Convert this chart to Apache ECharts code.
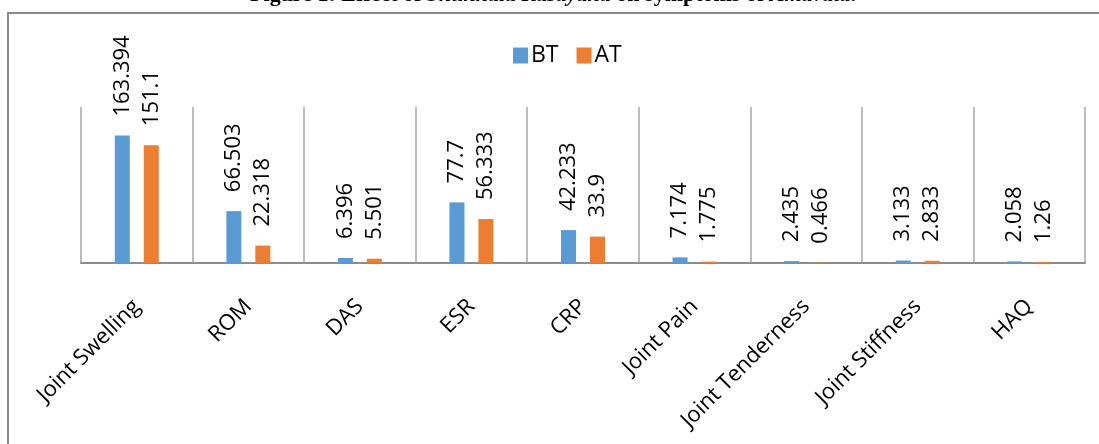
<!DOCTYPE html>
<html>
<head>
<meta charset="utf-8">
<script src="https://cdn.jsdelivr.net/npm/echarts@6/dist/echarts.min.js"></script>
<style>
html,body{margin:0;padding:0;background:#fff;}
#c{width:1099px;height:444px;}
</style>
</head>
<body>
<div id="c"></div>
<script>
const categories = ['Joint Swelling','ROM','DAS','ESR','CRP','Joint Pain','Joint Tenderness','Joint Stiffness','HAQ'];
const btValues = [163.394, 66.503, 6.396, 77.7, 42.233, 7.174, 2.435, 3.133, 2.058];
const atValues = [151.1, 22.318, 5.501, 56.333, 33.9, 1.775, 0.466, 2.833, 1.26];
const seriesNames = ['BT','AT'];
const titleParts = ['Figure 1: Effect of ', 'Shuhhala Kasayana', ' on symptoms of ', 'Amavata', '.'];

const FONT = '"Open Sans", sans-serif';
const chart = echarts.init(document.getElementById('c'), null, {renderer:'canvas'});

const labelCfg = {
  show: true,
  position: 'top',
  distance: 19,
  rotate: 90,
  align: 'left',
  verticalAlign: 'middle',
  fontFamily: FONT,
  fontSize: 22,
  color: '#000'
};

chart.setOption({
  animation: false,
  backgroundColor: '#fff',
  graphic: [
    {
      type: 'rect',
      shape: {x: 8, y: 13, width: 1200, height: 500},
      style: {fill: 'none', stroke: '#8a8a8a', lineWidth: 2},
      z: 0
    },
    {
      type: 'text',
      x: 553, y: 6,
      style: {
        text: '{b|' + titleParts[0] + '}{i|' + titleParts[1] + '}{b|' + titleParts[2] + '}{i|' + titleParts[3] + '}{b|' + titleParts[4] + '}',
        align: 'center',
        verticalAlign: 'bottom',
        rich: {
          b: {fontFamily: '"Liberation Serif", serif', fontWeight: 'bold', fontSize: 22, fill: '#000'},
          i: {fontFamily: '"Liberation Serif", serif', fontWeight: 'bold', fontStyle: 'italic', fontSize: 22, fill: '#000'}
        }
      }
    }
  ],
  legend: {
    data: seriesNames,
    left: 508,
    top: 39,
    itemWidth: 15,
    itemHeight: 16,
    itemGap: 18,
    icon: 'rect',
    textStyle: {fontFamily: FONT, fontSize: 23, color: '#000', padding: [0,0,0,-2]}
  },
  grid: {left: 81, right: 14, top: 107, bottom: 181, containLabel: false},
  xAxis: {
    type: 'category',
    data: categories,
    axisLine: {show: true, lineStyle: {color: '#8c8c8c', width: 2}},
    axisTick: {show: false},
    splitLine: {show: true, lineStyle: {color: '#a6a6a6', width: 1.5}},
    axisLabel: {
      interval: 0,
      rotate: 45,
      margin: 40,
      fontFamily: FONT,
      fontSize: 22,
      color: '#000'
    }
  },
  yAxis: {
    type: 'value',
    min: 0,
    max: 200,
    show: false,
    splitLine: {show: false}
  },
  series: [
    {
      name: seriesNames[0],
      type: 'bar',
      data: btValues,
      barWidth: 15,
      barGap: '93%',
      itemStyle: {color: '#5B9BD5'},
      label: labelCfg
    },
    {
      name: seriesNames[1],
      type: 'bar',
      data: atValues,
      barWidth: 15,
      itemStyle: {color: '#ED7D31'},
      label: labelCfg
    }
  ]
});
</script>
</body>
</html>
